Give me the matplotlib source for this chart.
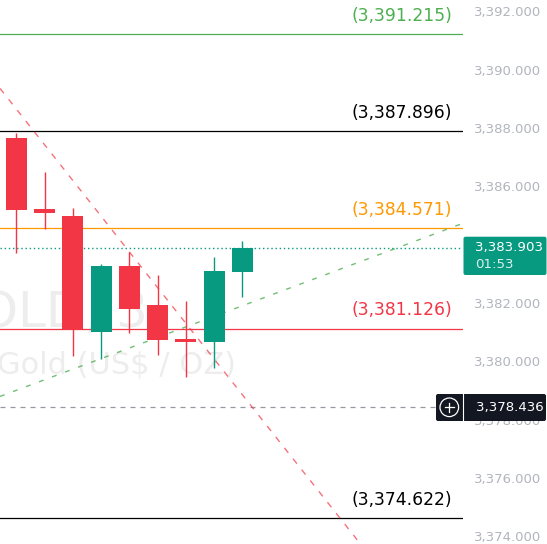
import matplotlib
matplotlib.use('Agg')
import matplotlib.pyplot as plt
import matplotlib.transforms as mtransforms
from matplotlib.patches import FancyBboxPatch, Circle
from matplotlib.lines import Line2D
from matplotlib.ticker import FuncFormatter

# ---------------- data ----------------
opens  = [3387.66, 3385.23, 3384.99, 3381.02, 3383.27, 3381.93, 3380.77, 3380.68, 3383.08]
highs  = [3387.84, 3386.50, 3385.26, 3383.34, 3383.75, 3382.96, 3382.07, 3383.59, 3384.13]
lows   = [3383.72, 3384.53, 3380.20, 3380.07, 3380.96, 3380.23, 3379.48, 3379.79, 3382.22]
closes = [3385.20, 3385.10, 3381.07, 3383.27, 3381.81, 3380.74, 3380.68, 3383.10, 3383.903]

level_values = [3391.215, 3387.896, 3384.571, 3381.126, 3374.622]
level_colors = ['#4CAF50', '#000000', '#FF9800', '#F23645', '#000000']
level_labels = ['(3,391.215)', '(3,387.896)', '(3,384.571)', '(3,381.126)', '(3,374.622)']

current_price = 3383.903
countdown = '01:53'
crosshair_price = 3378.436
tick_values = [3374, 3376, 3378, 3380, 3382, 3384, 3386, 3388, 3390, 3392]
hidden_ticks = [3384]  # covered by the current-price label in the reference

red_trend_x = [0.301, 7.823]
red_trend_y = [3388.277, 3379.079]
green_trend_x = [0.184, 9.336]
green_trend_y = [3379.079, 3382.391]

watermark_big = 'GOLD, 3'
watermark_small = 'Gold (US$ / OZ)'

UP = '#089981'
DOWN = '#F23645'

# ---------------- figure ----------------
W, H = 547, 544
fig = plt.figure(figsize=(W / 100, H / 100), dpi=100)
fig.patch.set_facecolor('white')
ax = fig.add_axes([0, 0, 463 / W, 1])
ax.set_facecolor('white')
for s in ax.spines.values():
    s.set_visible(False)

ax.set_xlim(-0.5846, 15.82)
ax.set_ylim(3373.742, 3392.391)
ax.set_xticks([])
ax.yaxis.tick_right()
ax.set_yticks(tick_values)
ax.yaxis.set_major_formatter(
    FuncFormatter(lambda v, p: '' if round(v) in hidden_ticks else f'{v:,.3f}'))
ax.tick_params(axis='y', length=0, pad=8, labelsize=9.5, labelcolor='#B2B5BE')

P = mtransforms.Affine2D().scale(1 / W, 1 / H) + fig.transFigure


def Y(py):
    return H - py


# watermark
ax.text(148, Y(327), watermark_big, transform=P, ha='right', va='baseline',
        fontsize=36, color='#EDEDED', zorder=0, clip_on=False)
ax.text(-3, Y(373), watermark_small, transform=P, ha='left', va='baseline',
        fontsize=22, color='#EDEDED', zorder=0, clip_on=False)

# horizontal levels
for v, c, lab in zip(level_values, level_colors, level_labels):
    ax.axhline(v, color=c, lw=0.9, zorder=1)
    ax.annotate(lab, xy=(452 / 463, v), xycoords=('axes fraction', 'data'),
                xytext=(0, 6.8), textcoords='offset points', ha='right', va='bottom',
                fontsize=12.3, color=c, zorder=4)

# current price dotted line
ax.axhline(current_price, color=UP, lw=1.0, ls=(0, (1, 2)), zorder=1)
# crosshair dashed line
ax.axhline(crosshair_price, color='#9598A1', lw=0.9, ls=(0, (4, 4)), zorder=1)

# trend lines
ax.axline((red_trend_x[0], red_trend_y[0]), (red_trend_x[1], red_trend_y[1]),
          color=DOWN, alpha=0.7, lw=1.0, ls=(0, (4.5, 5.5)), zorder=1.5)
ax.axline((green_trend_x[0], green_trend_y[0]), (green_trend_x[1], green_trend_y[1]),
          color='#4CAF50', alpha=0.8, lw=1.0, ls=(0, (3.5, 6.5)), zorder=1.5)

# candles
xs = list(range(len(opens)))
cols = [UP if c >= o else DOWN for o, c in zip(opens, closes)]
ax.vlines(xs, lows, highs, colors=cols, lw=1.0, zorder=2)
bottoms = [min(o, c) for o, c in zip(opens, closes)]
heights = [abs(c - o) for o, c in zip(opens, closes)]
ax.bar(xs, heights, bottom=bottoms, width=0.744, color=cols, lw=0, zorder=3)

# current price label box
box1 = FancyBboxPatch((463.5, Y(275)), 83, 38.3, boxstyle='round,pad=0,rounding_size=2',
                      transform=P, facecolor=UP, edgecolor='none', zorder=5)
fig.add_artist(box1)
fig.text(475 / W, 1 - 247.5 / H, f'{current_price:,.3f}', ha='left', va='center',
         fontsize=9.6, color='white', zorder=6)
fig.text(475 / W, 1 - 264.5 / H, countdown, ha='left', va='center',
         fontsize=9.6, color='white', alpha=0.85, zorder=6)

# crosshair label box
box2 = FancyBboxPatch((436, Y(421)), 110, 27, boxstyle='round,pad=0,rounding_size=2',
                      transform=P, facecolor='#131722', edgecolor='none', zorder=5)
fig.add_artist(box2)
fig.add_artist(Line2D([463.3, 463.3], [Y(394), Y(421)], transform=P, color='white', lw=0.8, zorder=6))
fig.add_artist(Circle((449.3, Y(407.3)), 9.3, transform=P, facecolor='none',
                      edgecolor='white', lw=0.9, zorder=6))
fig.add_artist(Line2D([444.5, 454.1], [Y(407.3), Y(407.3)], transform=P, color='white', lw=0.9, zorder=6))
fig.add_artist(Line2D([449.3, 449.3], [Y(402.5), Y(412.1)], transform=P, color='white', lw=0.9, zorder=6))
fig.text(476 / W, 1 - 407.3 / H, f'{crosshair_price:,.3f}', ha='left', va='center',
         fontsize=9.6, color='white', zorder=6)

fig.savefig('out.png', dpi=100, facecolor='white')
